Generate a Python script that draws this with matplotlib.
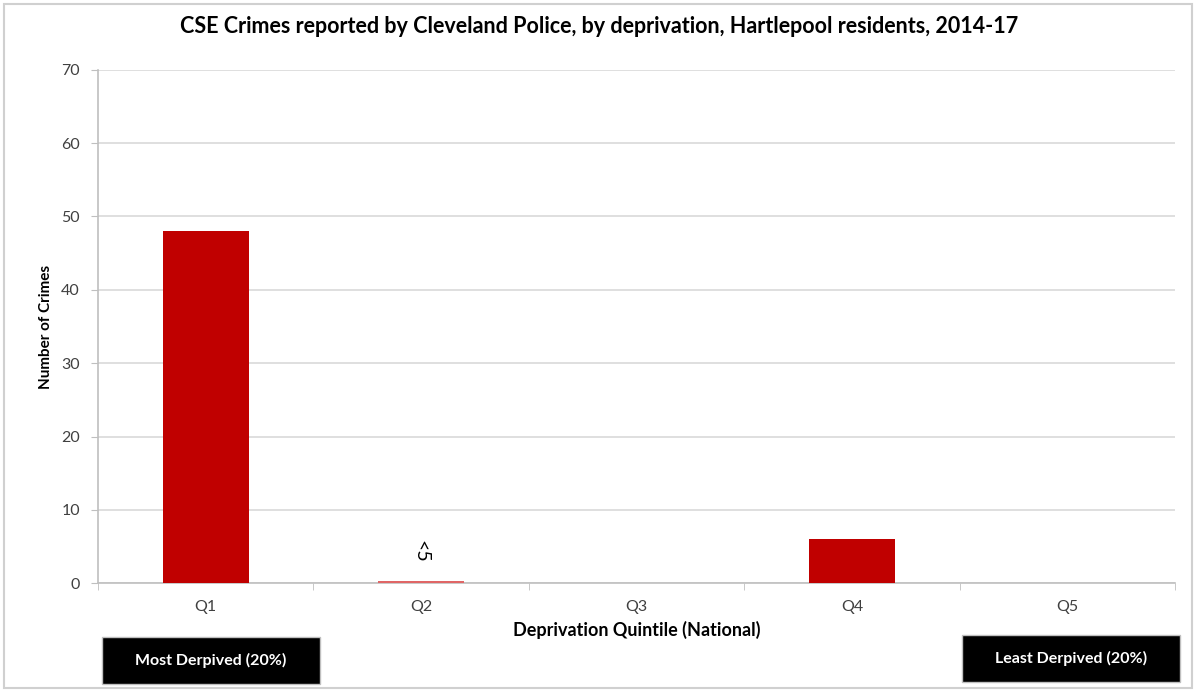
import numpy as np
import matplotlib.pyplot as plt
from matplotlib.patches import Rectangle

plt.rcParams['font.family'] = ['Lato', 'DejaVu Sans']

quintis = ['Q1', 'Q2', 'Q3', 'Q4', 'Q5']
crimes = [48, 0.3, 0, 6, 0]
cores = ['#c00000', '#e06666', '#c00000', '#c00000', '#c00000']

fig = plt.figure(figsize=(11.98, 6.91), dpi=100)
ax = fig.add_axes([0.0818, 0.156, 0.899, 0.743])

x = np.arange(len(quintis))
ax.bar(x, crimes, width=0.4, color=cores, zorder=3)

# rótulo de valor suprimido
ax.text(1, 2.8, '<5', rotation=-90, ha='center', va='bottom', fontsize=14, color='black')

ax.set_xlim(-0.5, 4.5)
ax.set_ylim(0, 70)
ax.set_yticks(range(0, 71, 10))
ax.set_xticks(x)
ax.set_xticklabels(quintis)
ax.set_xticks(np.arange(-0.5, 5, 1), minor=True)
ax.tick_params(axis='x', which='major', length=0, pad=12, labelsize=11.5, labelcolor='#404040')
ax.tick_params(axis='x', which='minor', length=5, color='#bfbfbf')
ax.tick_params(axis='y', length=5, color='#bfbfbf', labelsize=11.5, labelcolor='#404040', pad=8)
ax.grid(axis='y', color='#d9d9d9', linewidth=1.2, zorder=0)
for s in ['top', 'right']:
    ax.spines[s].set_visible(False)
for s in ['left', 'bottom']:
    ax.spines[s].set_color('#bfbfbf')
    ax.spines[s].set_linewidth(1.2)

ax.set_ylabel('Number of Crimes', fontsize=11, fontweight='bold', labelpad=6)
ax.set_xlabel('Deprivation Quintile (National)', fontsize=13, fontweight='bold', labelpad=5)
fig.text(0.5, 0.962, 'CSE Crimes reported by Cleveland Police, by deprivation, Hartlepool residents, 2014-17',
         ha='center', va='center', fontsize=15.5, fontweight='bold')

# caixas pretas
for (x0, y0, txt) in [(102, 637, 'Most Derpived (20%)'), (962, 635, 'Least Derpived (20%)')]:
    w, h = 218, 47
    fig.patches.append(Rectangle((x0 / 1198, 1 - (y0 + h) / 691), w / 1198, h / 691,
                                 transform=fig.transFigure, facecolor='black', edgecolor='#bfbfbf'))
    fig.text((x0 + w / 2) / 1198, 1 - (y0 + h / 2) / 691, txt, ha='center', va='center',
             color='white', fontsize=11.5, fontweight='bold')

# moldura
fig.patches.append(Rectangle((4 / 1198, 3 / 691), 1188 / 1198, 684 / 691, transform=fig.transFigure,
                             fill=False, edgecolor='#d0d0d0', linewidth=1.5))

fig.savefig('out.png', dpi=100)
